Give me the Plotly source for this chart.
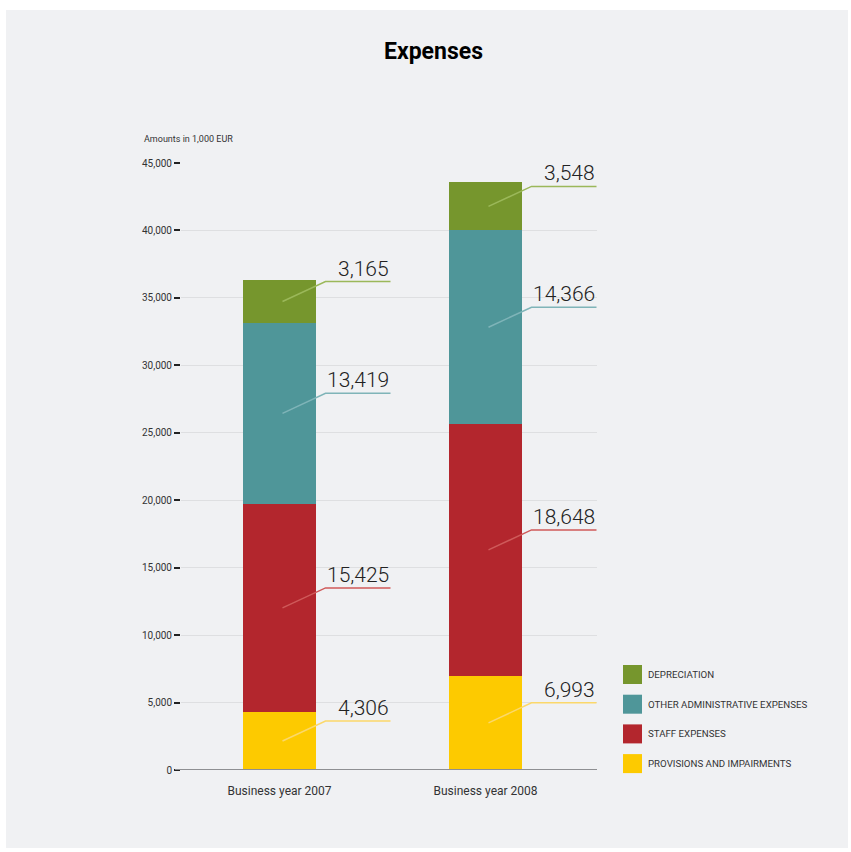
import plotly.graph_objects as go

# ---- data ----
categories = ["Business year 2007", "Business year 2008"]
series_names = ["PROVISIONS AND IMPAIRMENTS", "STAFF EXPENSES",
                "OTHER ADMINISTRATIVE EXPENSES", "DEPRECIATION"]
provisions = [4306, 6993]
staff = [15425, 18648]
other_admin = [13419, 14366]
depreciation = [3165, 3548]
y_ticks = [0, 5000, 10000, 15000, 20000, 25000, 30000, 35000, 40000, 45000]

series_values = [provisions, staff, other_admin, depreciation]
bar_colors = ["#fdca00", "#b3262d", "#4f9699", "#76962d"]
line_colors = ["#fbd86a", "#cf5a5a", "#7fb4b8", "#9bb85a"]

FONT = "Roboto, Liberation Sans Narrow, sans-serif"

W, H = 851, 852
L, R, T, B = 181, 597, 163, 770  # plot area in pixels


def px_x(p):
    return (p - L) / (R - L)


def px_y(p):
    return (B - p) / (B - T)


xpos = list(range(len(categories)))

fig = go.Figure()
for name, vals, col in zip(series_names, series_values, bar_colors):
    fig.add_trace(go.Bar(x=xpos, y=vals, name=name, marker=dict(color=col, line=dict(width=0)),
                         width=0.354, showlegend=False, hoverinfo="y+name"))

shapes = []
annotations = []

# panel background
shapes.append(dict(type="rect", xref="paper", yref="paper", layer="below",
                   x0=px_x(6), x1=px_x(848), y0=px_y(848), y1=px_y(10),
                   fillcolor="#f0f1f3", line=dict(width=0)))

# x axis baseline
shapes.append(dict(type="line", xref="paper", yref="y", x0=px_x(175), x1=1, y0=0, y1=0,
                   line=dict(color="#8e8f92", width=2), layer="above"))

# callouts
for xi in xpos:
    base = 0
    for vals, lc in zip(series_values, line_colors):
        v = vals[xi]
        mid = base + v / 2
        shapes.append(dict(type="path", xref="x", yref="y",
                           xsizemode="pixel", ysizemode="pixel",
                           xanchor=xi, yanchor=mid,
                           path="M 3 0 L 46 20 L 111 20",
                           line=dict(color=lc, width=1.5)))
        annotations.append(dict(x=xi, y=mid, xref="x", yref="y", text=f"{v:,}",
                                showarrow=False, xanchor="right", yanchor="bottom",
                                xshift=111, yshift=19,
                                font=dict(family=FONT, size=21, weight=300, color="#222222")))
        base += v

# y-axis caption
annotations.append(dict(x=px_x(142), y=px_y(139), xref="paper", yref="paper",
                        text="Amounts in 1,000 EUR", showarrow=False,
                        xanchor="left", yanchor="middle",
                        font=dict(family=FONT, size=9, color="#333333")))

# custom legend (top item = last stacked series)
leg_top = [665, 694.7, 724.4, 754.1]
for i, (name, col) in enumerate(zip(reversed(series_names), reversed(bar_colors))):
    y0 = leg_top[i]
    shapes.append(dict(type="rect", xref="paper", yref="paper",
                       x0=px_x(623), x1=px_x(642), y0=px_y(y0 + 19), y1=px_y(y0),
                       fillcolor=col, line=dict(width=0)))
    annotations.append(dict(x=px_x(646), y=px_y(y0 + 9.5), xref="paper", yref="paper",
                            text=name, showarrow=False, xanchor="left", yanchor="middle",
                            font=dict(family=FONT, size=9.7, color="#333333")))

fig.update_layout(
    width=W, height=H,
    margin=dict(l=L, r=W - R, t=T, b=H - B, pad=0),
    paper_bgcolor="white", plot_bgcolor="rgba(0,0,0,0)",
    barmode="stack",
    showlegend=False,
    title=dict(text="<b>Expenses</b>", x=433.5 / W, xanchor="center", xref="container",
               y=1 - 51 / H, yanchor="middle", yref="container",
               font=dict(family=FONT, size=23, color="#000000")),
    xaxis=dict(range=[(L - 279.5) / 206, (R - 279.5) / 206], tickvals=xpos, ticktext=categories,
               showgrid=False, zeroline=False, showline=False, ticks="",
               ticklabelstandoff=12,
               tickfont=dict(family=FONT, size=12, color="#333333"), fixedrange=True),
    yaxis=dict(range=[0, 45000], tickvals=y_ticks, tickformat=",d",
               showgrid=True, gridcolor="#dedfe1", gridwidth=1, zeroline=False, showline=False,
               ticks="outside", ticklen=6, tickwidth=2, tickcolor="#222222",
               tickfont=dict(family=FONT, size=10, color="#333333"), fixedrange=True),
    shapes=shapes, annotations=annotations,
)

fig.write_html("out.html", config={"displayModeBar": False},
               post_script="document.body.style.margin='0';")
